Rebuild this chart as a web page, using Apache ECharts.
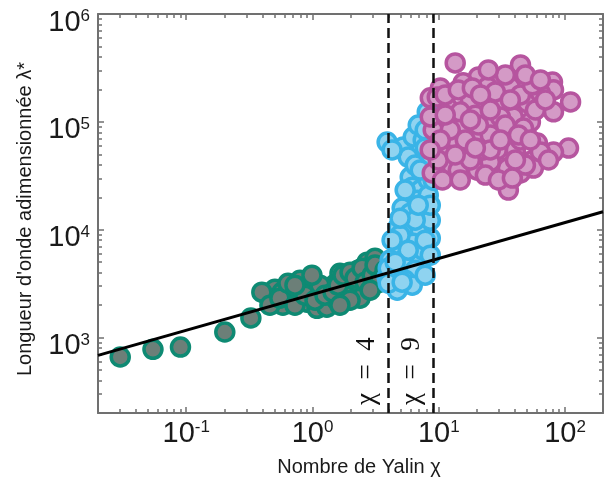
<!DOCTYPE html>
<html><head><meta charset="utf-8">
<script src="https://cdn.jsdelivr.net/npm/echarts@6/dist/echarts.min.js"></script>
<style>html,body{margin:0;padding:0;background:#fff}#c{width:606px;height:480px}</style>
</head><body><div id="c"></div>
<script>
// ---- data ----
const greenX = [0.030,0.0545,0.090,0.202,0.325,0.42,0.477,0.504,0.583,0.663,0.74,0.796,0.904,0.955,1.086,1.19,1.30,1.38,1.56,1.65,1.88,2.17,2.30,2.71,2.86,3.25,0.573,1.81,2.38,1.11,0.826,3.43,3.13,2.06,1.51,
  0.397,0.460,0.552,0.640,0.726,0.796,0.871,1.047,1.148,1.256,1.455,1.592,1.746,1.985,2.17,2.47,2.61,2.97,3.13,3.43,3.76,0.99,0.726,1.985,1.65,2.86];
const greenY = [661,778,817,1127,1520,2580,2220,2810,1995,2750,2320,3400,2130,3190,1870,2320,1915,2930,2220,3950,3400,2870,4220,5000,3630,3190,2630,2470,2320,2750,2630,4220,5450,3550,3120,
  2640,1995,2320,3190,1995,2750,2470,2220,3060,2470,2640,3060,3790,4040,3560,4400,3260,3790,4700,3400,4220,3790,3060,2220,1995,2750];

const blueX = [3.90,5.23,6.28,5.73,7.53,8.11,5.94,6.17,7.13,6.75,5.13,5.94,7.53,4.77,5.62,7.13,8.57,6.28,4.77,4.12,5.23,7.13,4.69,3.90,4.69,7.53,8.57,8.26,3.98,7.81,
  4.27,6.88,7.81,6.51,7.13,5.42,8.26,6.51,4.94,7.81,4.27,5.73,8.57,6.51,4.52,5.42,6.17,7.81,3.98,5.13,8.57,9.04,7.81,6.88,4.94];
const blueY = [65000,58500,72400,47200,67900,123600,30800,24800,23300,18800,15900,14250,15200,10570,9900,9900,8350,7510,6470,5230,5230,4900,3950,3630,2750,6470,12270,28900,4400,44300,
  54900,93500,84100,39800,35700,23300,20900,12270,8910,8000,8000,6470,5810,4220,5000,3400,3060,3790,3190,3260,16900,28800,57300,16900,12800];

const magentaX = [13.5,44.4,20.6,30.8,79.6,81.1,110.7,81.1,10.3,8.57,12.8,23.4,31.9,50.4,24.3,17.8,39.0,48.6,13.0,22.1,29.1,106.6,81.1,10.3,15.6,42.0,56.2,12.3,20.2,35.0,44.4,56.2,9.38,35.6,25.6,17.8,32.5,9.04,15.6,60.5,8.57,11.7,36.9,15.6,24.3,28.1,20.2,14.8,30.8,53.2,63.9,40.5,22.5,46.9,9.73,8.88,10.7,19.5,44.4,25.6,
  11.26,14.28,18.45,28.08,44.4,55.2,33.7,24.7,48.6,63.9,12.34,16.23,20.6,25.6,33.7,42.8,58.3,70.0,10.28,11.26,14.28,17.8,23.4,29.7,38.3,48.6,63.9,74.0,14.8,25.6,17.8,30.8,36.9,21.4,9.91,13.5,53.2,19.5,40.5,8.56];
const magentaY = [352000,337000,261000,256000,234000,198000,153000,124000,206000,167000,104000,153000,153000,150000,99800,160000,111000,72400,71000,61100,54900,57200,52500,51400,47200,47200,44300,39800,35700,37300,33600,37300,34300,23300,42500,63700,78900,84100,93500,63700,111000,137000,211000,230000,211000,72400,78900,124000,111000,99800,185000,54900,54900,87700,170000,33600,28900,115000,67900,75700,
  177800,197700,206500,189600,177800,220300,272300,302800,272300,244900,84100,67900,93500,128800,93500,75700,128800,159600,67900,115900,35700,44300,32100,28900,30100,39800,52600,44300,28900,54900,104300,67900,159600,177800,44300,49300,67900,57300,44300,54900];

const fitX = [0.02, 200];
const fitY = [684, 14660];

const dividers = [4, 9];
const dividerLabels = ['χ\u2002=\u20024', 'χ\u2002=\u20029'];

const xMajorTicks = [0.1, 1, 10, 100];
const yMajorTicks = [1e3, 1e4, 1e5, 1e6];
const xMinorTicks = [0.02,0.03,0.04,0.05,0.06,0.07,0.08,0.09,0.2,0.3,0.4,0.5,0.6,0.7,0.8,0.9,2,3,4,5,6,7,8,9,20,30,40,50,60,70,80,90,200];
const yMinorTicks = [200,300,400,500,600,700,800,900,2000,3000,4000,5000,6000,7000,8000,9000,20000,30000,40000,50000,60000,70000,80000,90000,200000,300000,400000,500000,600000,700000,800000,900000];

const xName = 'Nombre de Yalin χ';
const yName = "Longueur d'onde adimensionnée λ*";

// ---- chart ----
const zip = (a, b) => a.map((v, i) => [v, b[i]]);
const AX = '#707070';
const FONT = 'Liberation Sans';
const powLabel = v => '{b|10}{s|' + Math.round(Math.log10(v)) + '}';
const rich = {
  b: {fontSize: 29, lineHeight: 29, fontFamily: FONT, color: '#1a1a1a'},
  s: {fontSize: 17, lineHeight: 17, fontFamily: FONT, color: '#1a1a1a', verticalAlign: 'top'}
};

function axis(kind, pos, ticks, len, main) {
  return {
    type: 'log', logBase: 10, position: pos,
    min: kind === 'x' ? 0.02 : 200,
    max: kind === 'x' ? 200 : 1e6,
    axisLine: {show: main, onZero: false, lineStyle: {color: AX, width: 2}},
    axisTick: {show: true, inside: true, length: len, customValues: ticks, lineStyle: {color: AX, width: 1.5}},
    axisLabel: {show: false},
    splitLine: {show: false},
    minorTick: {show: false}
  };
}

const xBottom = axis('x', 'bottom', xMajorTicks, 6, true);
xBottom.axisLabel = {show: true, customValues: xMajorTicks, formatter: powLabel, rich: rich, margin: 6};
xBottom.name = xName;
xBottom.nameLocation = 'middle';
xBottom.nameGap = 44;
xBottom.nameTextStyle = {fontSize: 20, fontFamily: FONT, color: '#1a1a1a', padding: [0, 0, 0, 17]};

const yLeft = axis('y', 'left', yMajorTicks, 6, true);
yLeft.axisLabel = {show: true, customValues: yMajorTicks, formatter: powLabel, rich: rich, margin: 8, padding: [17, 0, 0, 0]};
yLeft.name = yName;
yLeft.nameLocation = 'middle';
yLeft.nameGap = 63;
yLeft.nameTextStyle = {fontSize: 20, fontFamily: FONT, color: '#1a1a1a', padding: [0, 11, 0, 0]};

const scatterBase = (data, fill, border) => ({
  type: 'scatter', data: data, symbol: 'circle', symbolSize: 18,
  xAxisIndex: 0, yAxisIndex: 0,
  itemStyle: {color: fill, borderColor: border, borderWidth: 3.5, opacity: 1},
  emphasis: {disabled: true}
});

const chart = echarts.init(document.getElementById('c'), null, {renderer: 'canvas'});
chart.setOption({
  animation: false,
  backgroundColor: '#fff',
  grid: {left: 98, right: 3, top: 14, bottom: 67, containLabel: false, outerBoundsMode: 'none'},
  xAxis: [xBottom, axis('x', 'bottom', xMinorTicks, 4, false), axis('x', 'top', xMajorTicks, 6, true), axis('x', 'top', xMinorTicks, 4, false)],
  yAxis: [yLeft, axis('y', 'left', yMinorTicks, 4, false), axis('y', 'right', yMajorTicks, 6, true), axis('y', 'right', yMinorTicks, 4, false)],
  series: [
    scatterBase(zip(greenX, greenY), '#6c7f78', '#0e8a73'),
    scatterBase(zip(blueX, blueY), '#8fd3f0', '#3ab4e7'),
    scatterBase(zip(magentaX, magentaY), '#d49ac6', '#b6559f'),
    {
      type: 'line', data: zip(fitX, fitY), symbol: 'none', xAxisIndex: 0, yAxisIndex: 0,
      lineStyle: {color: '#000', width: 3}, silent: true,
      markLine: {
        silent: true, symbol: ['none', 'none'],
        lineStyle: {color: '#111', width: 2.5, type: [10, 5]},
        label: {show: true, position: 'insideStartTop', formatter: '{b}', fontFamily: 'Liberation Serif', fontSize: 27, color: '#111', distance: 8},
        emphasis: {disabled: true},
        data: dividers.map((v, i) => ({xAxis: v, name: dividerLabels[i]}))
      }
    }
  ]
});
</script></body></html>
